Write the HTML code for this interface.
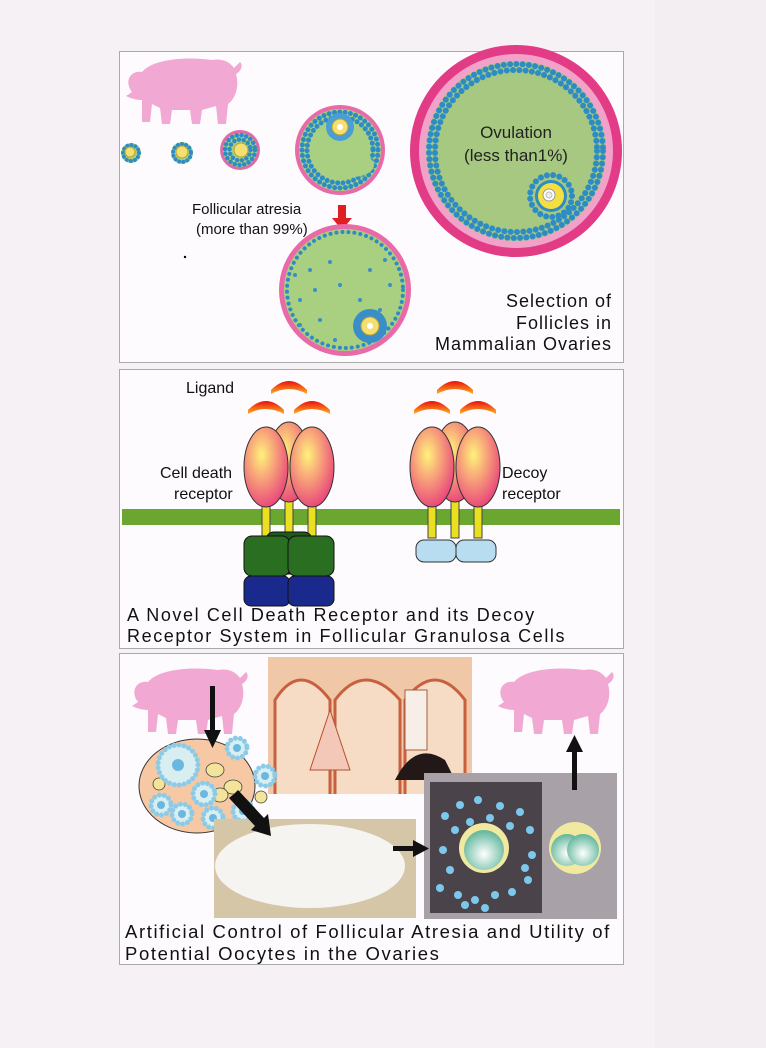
<!DOCTYPE html>
<html><head><meta charset="utf-8"><style>
html,body{margin:0;padding:0;background:#f6f1f5;}
svg{display:block;}
text{font-family:"Liberation Sans",sans-serif;}
</style></head><body>
<svg width="766" height="1048" viewBox="0 0 766 1048" xmlns="http://www.w3.org/2000/svg">
<defs>
<radialGradient id="pk" cx="0.4" cy="0.35" r="0.7"><stop offset="0" stop-color="#fff27a"/><stop offset="0.45" stop-color="#f7a07a"/><stop offset="1" stop-color="#e8407a"/></radialGradient>
<linearGradient id="cap" x1="0" y1="0" x2="0" y2="1"><stop offset="0" stop-color="#e81010"/><stop offset="1" stop-color="#ffb020"/></linearGradient>
<radialGradient id="egg" cx="0.5" cy="0.6" r="0.6"><stop offset="0" stop-color="#ffffff"/><stop offset="1" stop-color="#5fb59a"/></radialGradient>
<g id="pig"><path d="M10,40 C2,30 8,18 20,20 C30,8 60,4 90,8 C100,6 108,10 112,16 L118,10 C122,14 118,20 114,22 C118,36 112,48 106,52 L104,72 L96,72 L94,54 L80,58 L78,72 L70,72 L68,58 L50,58 L48,72 L40,72 L38,56 L30,52 L28,70 L20,70 L20,48 C14,48 8,46 4,44 Z" fill="#f1a8d2"/></g>
</defs>
<rect x="655" y="0" width="111" height="1048" fill="#f3eef2"/>

<!-- Panel 1 -->
<rect x="119.5" y="51.5" width="504" height="311" fill="#fdfbfd" stroke="#aaa"/>
<use href="#pig" transform="translate(122,52)"/>
<g stroke-linecap="round" fill="none">
<circle cx="131" cy="153" r="10" fill="#a9cf80"/><circle cx="131" cy="153" r="8" stroke="#2e8cc4" stroke-width="4" stroke-dasharray="0.01 4.2"/><circle cx="130" cy="152" r="5" fill="#f3e070" stroke="#bba030"/>
<circle cx="182" cy="153" r="11" fill="#a9cf80"/><circle cx="182" cy="153" r="9" stroke="#2e8cc4" stroke-width="4" stroke-dasharray="0.01 4.2"/><circle cx="182" cy="152" r="6" fill="#f3e070" stroke="#bba030"/>
<circle cx="240" cy="150" r="20" fill="#e06aa8"/><circle cx="240" cy="150" r="17" fill="#a9cf80"/><circle cx="240" cy="150" r="15" stroke="#2e8cc4" stroke-width="4.5" stroke-dasharray="0.01 4.8"/><circle cx="240" cy="150" r="10.5" stroke="#2e8cc4" stroke-width="4.5" stroke-dasharray="0.01 4.8"/><circle cx="241" cy="150" r="7" fill="#f3e070" stroke="#bba030"/>
<circle cx="340" cy="150" r="45" fill="#e86aa8"/><circle cx="340" cy="150" r="41" fill="#a9cf80"/><circle cx="340" cy="150" r="38" stroke="#2e8cc4" stroke-width="5" stroke-dasharray="0.01 5.4"/><circle cx="340" cy="150" r="33" stroke="#2e8cc4" stroke-width="5" stroke-dasharray="0.01 5.4"/>
<ellipse cx="352" cy="165" rx="22" ry="12" fill="#a9cf80"/><circle cx="340" cy="127" r="14" fill="#4a9ed6"/><circle cx="340" cy="127" r="8" fill="#f3e070" stroke="#bba030"/><circle cx="340" cy="127" r="3" fill="#fff"/>
<circle cx="516" cy="151" r="106" fill="#e23c86"/><circle cx="516" cy="151" r="97" fill="#f2a2c8"/><circle cx="516" cy="151" r="90" fill="#a6c880"/>
<circle cx="516" cy="151" r="87" stroke="#2e8cc4" stroke-width="6" stroke-dasharray="0.01 6.3"/><circle cx="516" cy="151" r="81" stroke="#2e8cc4" stroke-width="6" stroke-dasharray="0.01 6.3"/>
<circle cx="551" cy="196" r="21" stroke="#2e8cc4" stroke-width="6" stroke-dasharray="0.01 6.3"/><circle cx="551" cy="196" r="16" fill="#2e8cc4"/>
<circle cx="551" cy="196" r="13" fill="#f3e040"/><circle cx="549" cy="195" r="6" fill="#fff" stroke="#999"/><circle cx="549" cy="195" r="3" fill="#eee" stroke="#bbb"/>
</g>
<text x="516" y="138" font-size="17" text-anchor="middle" fill="#222">Ovulation</text>
<text x="516" y="161" font-size="17" text-anchor="middle" fill="#222">(less than1%)</text>
<path d="M338,205 h8 v13 h6 l-10,12 l-10,-12 h6 z" fill="#e02020"/>
<text x="192" y="214" font-size="15" fill="#111">Follicular atresia</text>
<text x="196" y="234" font-size="15" fill="#111">(more than 99%)</text>
<circle cx="185" cy="257" r="1.2" fill="#000"/>
<g stroke-linecap="round" fill="none">
<circle cx="345" cy="290" r="66" fill="#e86aa8"/><circle cx="345" cy="290" r="61" fill="#a9cf80"/><circle cx="345" cy="290" r="58" stroke="#2e8cc4" stroke-width="4" stroke-dasharray="0.01 6"/>
</g>
<g fill="#3a8ec8"><circle cx="310" cy="270" r="2"/><circle cx="330" cy="262" r="2"/><circle cx="370" cy="270" r="2"/><circle cx="300" cy="300" r="2"/><circle cx="320" cy="320" r="2"/><circle cx="360" cy="300" r="2"/><circle cx="390" cy="285" r="2"/><circle cx="340" cy="285" r="2"/><circle cx="315" cy="290" r="2"/><circle cx="380" cy="310" r="2"/><circle cx="295" cy="275" r="2"/><circle cx="385" cy="260" r="2"/><circle cx="300" cy="325" r="2"/><circle cx="335" cy="340" r="2"/></g>
<circle cx="370" cy="326" r="17" fill="#3a8ec8"/><circle cx="370" cy="326" r="9" fill="#f3e070" stroke="#bba030"/><circle cx="370" cy="326" r="3" fill="#fff"/>
<g font-size="18" fill="#111" text-anchor="end" letter-spacing="1"><text x="612" y="307">Selection of</text><text x="612" y="329">Follicles in</text><text x="612" y="350">Mammalian Ovaries</text></g>

<!-- Panel 2 -->
<rect x="119.5" y="369.5" width="504" height="279" fill="#fdfbfd" stroke="#aaa"/>
<rect x="122" y="509" width="498" height="16" fill="#6aa630"/>
<g id="rL">
<rect x="262" y="500" width="8" height="38" fill="#e8e020" stroke="#444"/><rect x="285" y="500" width="8" height="38" fill="#e8e020" stroke="#444"/><rect x="308" y="500" width="8" height="38" fill="#e8e020" stroke="#444"/>
<ellipse cx="289" cy="462" rx="21" ry="40" fill="url(#pk)" stroke="#333"/>
<ellipse cx="266" cy="467" rx="22" ry="40" fill="url(#pk)" stroke="#333"/>
<ellipse cx="312" cy="467" rx="22" ry="40" fill="url(#pk)" stroke="#333"/>
<path d="M248,410 q18,-18 36,0 v4 q-18,-10 -36,0z" fill="url(#cap)"/><path d="M294,410 q18,-18 36,0 v4 q-18,-10 -36,0z" fill="url(#cap)"/><path d="M271,390 q18,-18 36,0 v4 q-18,-10 -36,0z" fill="url(#cap)"/>
</g>
<rect x="266" y="532" width="46" height="42" rx="8" fill="#1f5a1a" stroke="#111"/>
<rect x="244" y="536" width="46" height="40" rx="8" fill="#2a6e22" stroke="#111"/><rect x="288" y="536" width="46" height="40" rx="8" fill="#2a6e22" stroke="#111"/>
<rect x="244" y="576" width="46" height="30" rx="7" fill="#1a2a8c" stroke="#111"/><rect x="288" y="576" width="46" height="30" rx="7" fill="#1a2a8c" stroke="#111"/>
<use href="#rL" transform="translate(166,0)"/>
<rect x="416" y="540" width="40" height="22" rx="8" fill="#b8dcf0" stroke="#333"/><rect x="456" y="540" width="40" height="22" rx="8" fill="#b8dcf0" stroke="#333"/>
<text x="186" y="393" font-size="16" fill="#111">Ligand</text>
<text x="160" y="478" font-size="16" fill="#111">Cell death</text><text x="174" y="499" font-size="16" fill="#111">receptor</text>
<text x="502" y="478" font-size="16" fill="#111">Decoy</text><text x="502" y="499" font-size="16" fill="#111">receptor</text>
<g font-size="18" fill="#111" letter-spacing="1.6"><text x="127" y="621">A Novel Cell Death Receptor and its Decoy</text><text x="127" y="642">Receptor System in Follicular Granulosa Cells</text></g>

<!-- Panel 3 -->
<rect x="119.5" y="653.5" width="504" height="311" fill="#fdfbfd" stroke="#aaa"/>
<rect x="268" y="657" width="204" height="137" fill="#f0c8a8"/>
<path d="M275,794 V700 q25,-40 55,0 V794 M335,794 V700 q30,-40 65,0 V794 M405,794 V700 q30,-40 60,0 V794" fill="#f6dcc4" stroke="#c86040" stroke-width="3"/>
<path d="M310,770 l20,-60 l20,60z" fill="#f4c8b8" stroke="#b85030"/>
<path d="M395,780 q20,-40 50,-20 l10,20 z" fill="#221818"/><rect x="405" y="690" width="22" height="60" fill="#f8eee8" stroke="#a06040"/>
<use href="#pig" transform="translate(128,662)"/>
<use href="#pig" transform="translate(494,662)"/>
<ellipse cx="197" cy="786" rx="58" ry="47" fill="#f6c8a4" stroke="#333"/>
<g fill="#f3e49a" stroke="#444" stroke-width="0.8"><ellipse cx="215" cy="770" rx="9" ry="7"/><ellipse cx="233" cy="787" rx="9" ry="7"/><ellipse cx="220" cy="795" rx="8" ry="7"/><ellipse cx="159" cy="784" rx="6" ry="6"/><ellipse cx="261" cy="797" rx="6" ry="6"/></g>
<g stroke="#8ccbe8" stroke-width="5" stroke-dasharray="0.01 5" stroke-linecap="round" fill="#d8eef0">
<circle cx="178" cy="765" r="20"/><circle cx="237" cy="748" r="10"/><circle cx="265" cy="776" r="10"/><circle cx="161" cy="805" r="10"/><circle cx="204" cy="794" r="11"/><circle cx="182" cy="814" r="10"/><circle cx="213" cy="818" r="10"/><circle cx="243" cy="811" r="10"/></g>
<g fill="#6ab8e0"><circle cx="178" cy="765" r="6"/><circle cx="237" cy="748" r="4"/><circle cx="265" cy="776" r="4"/><circle cx="161" cy="805" r="4"/><circle cx="204" cy="794" r="4"/><circle cx="182" cy="814" r="4"/><circle cx="213" cy="818" r="4"/><circle cx="243" cy="811" r="4"/></g>
<rect x="214" y="819" width="202" height="99" fill="#d6c6a8"/>
<ellipse cx="310" cy="866" rx="95" ry="42" fill="#f6f4f0"/>
<rect x="424" y="773" width="193" height="146" fill="#a8a2a8"/>
<rect x="430" y="782" width="112" height="131" fill="#4a444a"/>
<g fill="#7cc8ec">
<circle cx="445" cy="816" r="4"/><circle cx="460" cy="805" r="4"/><circle cx="478" cy="800" r="4"/><circle cx="500" cy="806" r="4"/><circle cx="520" cy="812" r="4"/><circle cx="530" cy="830" r="4"/><circle cx="455" cy="830" r="4"/><circle cx="470" cy="822" r="4"/><circle cx="490" cy="818" r="4"/><circle cx="510" cy="826" r="4"/><circle cx="443" cy="850" r="4"/><circle cx="450" cy="870" r="4"/><circle cx="440" cy="888" r="4"/><circle cx="458" cy="895" r="4"/><circle cx="475" cy="900" r="4"/><circle cx="495" cy="895" r="4"/><circle cx="512" cy="892" r="4"/><circle cx="528" cy="880" r="4"/><circle cx="532" cy="855" r="4"/><circle cx="525" cy="868" r="4"/><circle cx="465" cy="905" r="4"/><circle cx="485" cy="908" r="4"/></g>
<circle cx="484" cy="848" r="25" fill="#f1e9a0"/><circle cx="484" cy="850" r="20" fill="url(#egg)"/>
<circle cx="575" cy="848" r="26" fill="#f1e9a0"/><circle cx="567" cy="850" r="16" fill="url(#egg)"/><circle cx="583" cy="850" r="16" fill="url(#egg)"/>
<g fill="#111"><rect x="210" y="686" width="5" height="48"/><path d="M204,730 h17 l-8.5,18z"/>
<path d="M234,794 l4,-4 l26,28 l4,-4 l3,22 l-20,-6 l4,-4 l-26,-28z"/>
<rect x="393" y="846" width="22" height="5"/><path d="M413,840 l16,8.5 l-16,8.5z"/>
<rect x="572" y="750" width="5" height="40"/><path d="M566,752 h17 l-8.5,-17z"/></g>
<g font-size="18.5" fill="#111" letter-spacing="1.6"><text x="125" y="938">Artificial Control of Follicular Atresia and Utility of</text><text x="125" y="960">Potential Oocytes in the Ovaries</text></g>
</svg>
</body></html>
